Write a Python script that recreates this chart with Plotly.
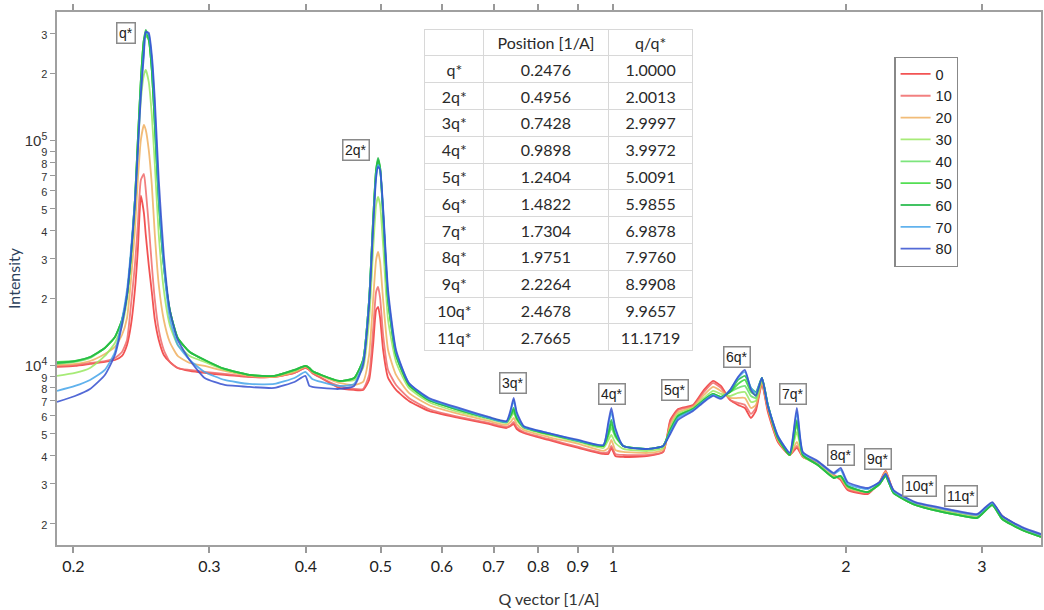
import numpy as np
import plotly.graph_objects as go

# ---------------- data ----------------
Q = [0.1905, 0.2010, 0.2102, 0.2197, 0.2264, 0.2312, 0.2347, 0.2375, 0.2403, 0.2424,
     0.2446, 0.2468, 0.2482, 0.2504, 0.2527, 0.2550, 0.2580, 0.2619, 0.2666, 0.2730,
     0.2829, 0.2958, 0.3140, 0.3381, 0.3641, 0.3865, 0.3993, 0.4041, 0.4077, 0.4187,
     0.4416, 0.4618, 0.4743, 0.4829, 0.4887, 0.4931, 0.4960, 0.4990, 0.5035, 0.5110,
     0.5233, 0.5437, 0.5771, 0.6310, 0.6897, 0.7274, 0.7362, 0.7430, 0.7497, 0.7655,
     0.8243, 0.9013, 0.9707, 0.9852, 0.9941, 1.006, 1.030, 1.110, 1.160, 1.185,
     1.213, 1.268, 1.310, 1.346, 1.378, 1.416, 1.450, 1.480, 1.507, 1.529,
     1.557, 1.585, 1.633, 1.692, 1.728, 1.759, 1.839, 1.929, 1.969, 2.010,
     2.133, 2.211, 2.251, 2.305, 2.460, 2.627, 2.788, 2.958, 3.093, 3.186,
     3.381, 3.577]

I_0 = [9898, 10000, 10210, 10420, 10630, 11080, 12400, 15210, 21760, 32780,
       57100, 47860, 38220, 28110, 21320, 16010, 13050, 11190, 10420, 9797,
       9501, 9309, 9120, 8936, 8936, 9309, 9797, 9599, 9309, 8845,
       7986, 7824, 7824, 8665, 12400, 17740, 18290, 16340, 11780, 8845,
       7824, 6991, 6310, 5873, 5524, 5302, 5412, 5524, 5248, 5036,
       4689, 4321, 4064, 4064, 4321, 3981, 3941, 3981, 4149, 5754,
       6440, 6708, 7824, 8577, 8150, 7063, 6708, 6506, 5873, 6310,
       8318, 6245, 4594, 4022, 4321, 3941, 3746, 3279, 3112, 2810,
       2697, 3048, 3417, 2780, 2460, 2340, 2245, 2177, 2460, 2154, 1905, 1774]

I_10 = [10000, 10100, 10310, 10520, 10850, 11540, 13050, 18670, 28110, 42340,
        67100, 71330, 60570, 42340, 28110, 19650, 14450, 11780, 10420, 9797,
        9599, 9404, 9213, 8936, 8936, 9309, 9797, 9599, 9309, 8845,
        8150, 7904, 7904, 9120, 14450, 21320, 22440, 20050, 13730, 9599,
        8233, 7208, 6440, 5934, 5580, 5356, 5468, 5638, 5356, 5088,
        4737, 4365, 4107, 4149, 4411, 4064, 4022, 4022, 4149, 5638,
        6372, 6640, 7665, 8404, 7986, 7063, 6850, 6708, 6119, 6506,
        8404, 6372, 4642, 4022, 4411, 3941, 3746, 3279, 3145, 2840,
        2726, 3048, 3417, 2780, 2460, 2340, 2245, 2177, 2460, 2154, 1905, 1774]

I_20 = [10100, 10210, 10520, 11310, 12150, 13730, 16340, 24110, 40220, 67100,
        101000, 117800, 111900, 91200, 63750, 38220, 22910, 16010, 12780, 11080,
        10310, 10000, 9501, 9028, 8936, 9404, 9898, 9698, 9404, 9028,
        8404, 8233, 8490, 11190, 19650, 29590, 32120, 28990, 19650, 11780,
        9120, 7587, 6708, 6119, 5696, 5468, 5638, 5873, 5524, 5193,
        4834, 4502, 4191, 4321, 4689, 4234, 4149, 4107, 4234, 5468,
        6245, 6572, 7432, 8067, 7745, 7208, 7208, 7208, 6506, 6708,
        8490, 6506, 4689, 4022, 4594, 3941, 3671, 3244, 3178, 2869,
        2754, 3017, 3382, 2754, 2435, 2317, 2222, 2154, 2460, 2132, 1884, 1754]

I_30 = [9028, 9309, 9797, 11080, 12650, 15060, 19650, 28990, 49360, 91200,
        152100, 196500, 206800, 182900, 130500, 78240, 38220, 21760, 15210, 12400,
        11080, 10420, 9599, 9120, 9028, 9501, 10000, 9797, 9501, 9120,
        8577, 8665, 9797, 16010, 32780, 51950, 56380, 51950, 34500, 16010,
        10420, 7986, 6920, 6245, 5814, 5580, 5873, 6180, 5754, 5302,
        4935, 4594, 4321, 4689, 4935, 4548, 4278, 4191, 4321, 5302,
        6119, 6506, 7208, 7745, 7508, 7356, 7587, 7665, 6920, 6991,
        8665, 6640, 4786, 4022, 5088, 3981, 3631, 3211, 3211, 2899,
        2754, 2989, 3279, 2726, 2411, 2291, 2199, 2132, 2435, 2111, 1866, 1738]

I_40 = [10210, 10420, 10850, 12020, 13460, 16010, 20680, 31130, 54680, 101000,
        186700, 281100, 292900, 281100, 206800, 117800, 54680, 28110, 17740, 13310,
        11540, 10630, 9698, 9120, 9028, 9599, 10000, 9797, 9501, 9120,
        8577, 8845, 10630, 19650, 44560, 74320, 80680, 75860, 46900, 19650,
        11190, 8233, 7063, 6372, 5873, 5638, 5995, 6245, 5873, 5356,
        4985, 4642, 4411, 4884, 5302, 4834, 4411, 4278, 4411, 5193,
        5995, 6440, 7063, 7508, 7282, 7665, 7986, 8150, 7356, 7208,
        8845, 6708, 4786, 4022, 5468, 4022, 3631, 3178, 3244, 2929,
        2754, 2989, 3244, 2726, 2411, 2268, 2177, 2111, 2411, 2089, 1866, 1738]

I_50 = [10420, 10520, 10960, 12020, 13460, 16010, 20680, 31130, 54680, 101000,
        186700, 281100, 302000, 281100, 206800, 117800, 54680, 28110, 17740, 13310,
        11540, 10630, 9698, 9120, 9028, 9599, 10000, 9797, 9501, 9120,
        8577, 8845, 10630, 19650, 44560, 74320, 82350, 75860, 46900, 19650,
        11190, 8233, 7063, 6372, 5873, 5638, 6057, 6372, 5873, 5356,
        4985, 4642, 4411, 4985, 5524, 4935, 4411, 4278, 4411, 5193,
        5995, 6440, 7063, 7508, 7282, 7665, 8318, 8665, 7665, 7432,
        8845, 6708, 4786, 4022, 5638, 4022, 3631, 3178, 3244, 2929,
        2754, 2989, 3244, 2726, 2411, 2268, 2177, 2111, 2411, 2089, 1866, 1738]

I_60 = [10310, 10520, 10960, 12020, 13460, 16010, 20680, 31130, 54680, 101000,
        186700, 281100, 311300, 286900, 206800, 117800, 54680, 28110, 17740, 13310,
        11540, 10630, 9698, 9120, 9028, 9599, 10000, 9797, 9501, 9120,
        8577, 8845, 10630, 19650, 44560, 74320, 84050, 75860, 46900, 19650,
        11190, 8233, 7063, 6372, 5873, 5638, 6057, 6506, 5873, 5356,
        4985, 4642, 4411, 5088, 5754, 4935, 4411, 4278, 4411, 5193,
        5995, 6440, 7063, 7508, 7282, 7665, 8665, 9028, 7986, 7665,
        8845, 6708, 4786, 4022, 5754, 4022, 3631, 3178, 3244, 2929,
        2754, 2989, 3244, 2726, 2411, 2268, 2177, 2111, 2411, 2089, 1866, 1738]

I_70 = [7745, 8150, 8665, 9599, 11540, 16010, 21760, 32780, 54680, 91200,
        168600, 253700, 305000, 295900, 229100, 137300, 57540, 28110, 16340, 12400,
        10630, 9404, 8665, 8318, 8318, 8845, 9404, 9028, 8755, 8490,
        8150, 8318, 10420, 19650, 42340, 70620, 78240, 74320, 49360, 20680,
        11540, 8404, 7134, 6440, 5873, 5638, 6245, 7063, 6119, 5356,
        5036, 4642, 4456, 5468, 6245, 5193, 4411, 4278, 4411, 5088,
        5873, 6372, 6991, 7432, 7208, 7824, 8845, 9404, 7986, 7587,
        8845, 6708, 4884, 4107, 6245, 4107, 3746, 3313, 3452, 2989,
        2840, 3048, 3313, 2780, 2460, 2340, 2245, 2177, 2460, 2154, 1905, 1774]

I_80 = [6920, 7356, 7904, 9120, 11190, 15210, 20680, 31130, 51950, 91200,
        160100, 241100, 305000, 302000, 241100, 152100, 67100, 31130, 17740, 13050,
        10630, 8845, 8233, 8067, 7986, 8490, 9028, 8150, 8067, 7986,
        7904, 8150, 10100, 18670, 41060, 68490, 76650, 74320, 50380, 21760,
        11780, 8404, 7208, 6506, 5934, 5696, 6372, 7208, 6245, 5412,
        5036, 4689, 4456, 5638, 6506, 5302, 4411, 4278, 4411, 4985,
        5754, 6310, 6920, 7356, 7134, 7824, 8936, 9599, 7824, 7356,
        8845, 6640, 4884, 4107, 6506, 4149, 3784, 3347, 3524, 3048,
        2869, 3048, 3313, 2810, 2485, 2364, 2268, 2199, 2485, 2154, 1923, 1791]

SERIES_NAMES = ["0", "10", "20", "30", "40", "50", "60", "70", "80"]
SERIES_VALUES = [I_0, I_10, I_20, I_30, I_40, I_50, I_60, I_70, I_80]

# peak table
PEAK_LABELS = ["q*", "2q*", "3q*", "4q*", "5q*", "6q*", "7q*", "8q*", "9q*", "10q*", "11q*"]
PEAK_POSITIONS = [0.2476, 0.4956, 0.7428, 0.9898, 1.2404, 1.4822, 1.7304, 1.9751, 2.2264, 2.4678, 2.7665]
PEAK_RATIOS = [1.0000, 2.0013, 2.9997, 3.9972, 5.0091, 5.9855, 6.9878, 7.9760, 8.9908, 9.9657, 11.1719]

# axis ticks
X_TICKS = [0.2, 0.3, 0.4, 0.5, 0.6, 0.7, 0.8, 0.9, 1, 2, 3]
X_TICKTEXT = ["0.2", "0.3", "0.4", "0.5", "0.6", "0.7", "0.8", "0.9", "1", "2", "3"]
Y_TICKS = [2000, 3000, 4000, 5000, 6000, 7000, 8000, 9000, 10000,
           20000, 30000, 40000, 50000, 60000, 70000, 80000, 90000, 100000,
           200000, 300000]
Y_TICKTEXT = ["2", "3", "4", "5", "6", "7", "8", "9", "10<sup>4</sup>",
              "2", "3", "4", "5", "6", "7", "8", "9", "10<sup>5</sup>", "2", "3"]

# ---------------- styling (not data) ----------------
COLORS = ["#f03535", "#f06a6a", "#f0b060", "#98e860", "#66e066",
          "#35d835", "#22b848", "#45a5ea", "#3550d0"]
LABEL_POS_Q = [0.2339, 0.4647, 0.7408, 0.997, 1.202, 1.445, 1.707, 1.969, 2.198, 2.490, 2.820]
LABEL_POS_I = [302000, 91200, 8404, 7508, 7824, 10960, 7508, 4022, 3860, 2929, 2644]

fig = go.Figure()
for name, vals, col in zip(SERIES_NAMES, SERIES_VALUES, COLORS):
    assert len(vals) == len(Q)
    fig.add_trace(go.Scatter(
        x=Q, y=vals, name=name, mode="lines",
        line=dict(color=col, width=1.8, shape="spline", smoothing=0.5),
        opacity=0.85,
    ))

fig.add_trace(go.Table(
    domain=dict(x=[0.3739, 0.6464], y=[0.356, 0.968]),
    columnwidth=[59, 125, 85],
    header=dict(values=["", "Position [1/A]", "q/q*"],
                fill_color="white", line_color="#d8d8d8", line_width=1,
                align="center", height=26.8,
                font=dict(family="Lato, Open Sans, sans-serif", size=16, color="#2a2a2a")),
    cells=dict(values=[PEAK_LABELS,
                       [f"{v:.4f}" for v in PEAK_POSITIONS],
                       [f"{v:.4f}" for v in PEAK_RATIOS]],
               fill_color="white", line_color="#d8d8d8", line_width=1,
               align="center", height=26.8,
               font=dict(family="Lato, Open Sans, sans-serif", size=16, color="#2a2a2a")),
))

for lab, qx, iy in zip(PEAK_LABELS, LABEL_POS_Q, LABEL_POS_I):
    fig.add_annotation(
        x=np.log10(qx), y=np.log10(iy), xref="x", yref="y", text=lab,
        showarrow=False, bgcolor="white", bordercolor="#8a8a8a", borderwidth=1.5,
        borderpad=1.5, font=dict(family="Liberation Sans, Arial", size=14, color="#222"),
    )

minor_ticktext = [t if "sup" in t else f'<span style="font-size:11px">{t}</span>' for t in Y_TICKTEXT]

fig.update_layout(
    width=1044, height=610,
    margin=dict(l=57, r=1, t=12, b=65),
    paper_bgcolor="white", plot_bgcolor="white",
    showlegend=True,
    legend=dict(x=0.851, y=0.916, xanchor="left", yanchor="top",
                bgcolor="white", bordercolor="#888", borderwidth=1.2,
                font=dict(family="Liberation Sans, Arial", size=14.5, color="#222"),
                itemwidth=30, tracegroupgap=0),
    xaxis=dict(type="log", range=[np.log10(0.1905), np.log10(3.577)],
               tickvals=X_TICKS, ticktext=X_TICKTEXT,
               ticks="outside", ticklen=6, tickcolor="#999", tickwidth=1.5,
               showline=True, linecolor="#a0a0a0", linewidth=1.5, mirror="ticks",
               showgrid=False, zeroline=False,
               tickfont=dict(family="Lato, Open Sans, sans-serif", size=16, color="#222"),
               title=dict(text="Q vector [1/A]", standoff=20,
                          font=dict(family="Lato, Open Sans, sans-serif", size=16, color="#333"))),
    yaxis=dict(type="log", range=[3.2044, 5.573],
               tickvals=Y_TICKS, ticktext=minor_ticktext,
               ticks="outside", ticklen=5, tickcolor="#999", tickwidth=1.2,
               showline=True, linecolor="#a0a0a0", linewidth=1.5, mirror=True,
               showgrid=False, zeroline=False,
               tickfont=dict(family="Liberation Sans, Arial", size=15, color="#333"),
               title=dict(text="Intensity", standoff=0,
                          font=dict(family="Lato, Open Sans, sans-serif", size=16, color="#2b3f5c"))),
)

fig.write_html("out.html")
